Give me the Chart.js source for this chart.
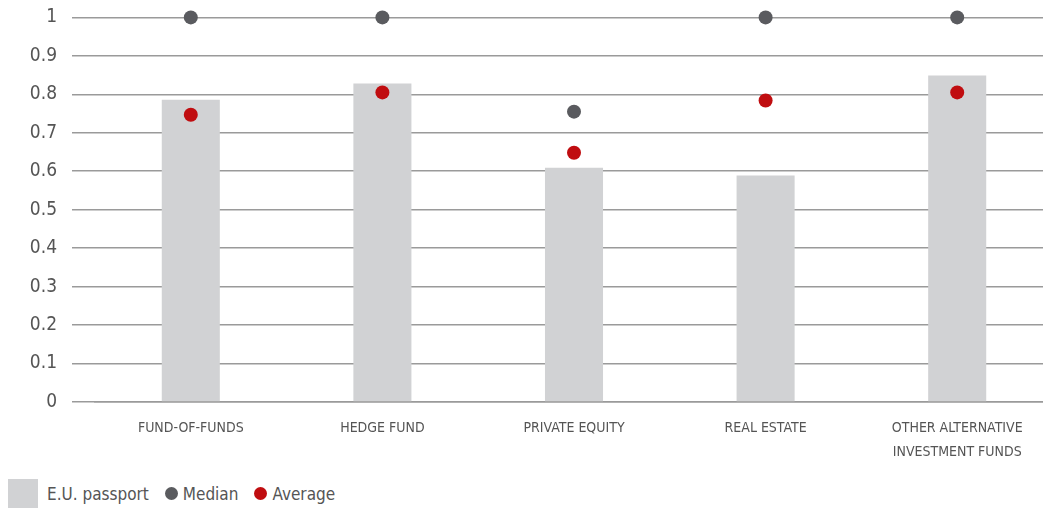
<!DOCTYPE html>
<html lang="en">
<head>
    <meta charset="UTF-8">
    <title>E.U. passport</title>
    <script src="https://cdn.jsdelivr.net/npm/chart.js"></script>
    <style>
        html, body { margin: 0; padding: 0; background: #fff; }
        .frame { position: relative; width: 1043px; height: 509px; overflow: hidden; }
        .chart-box { position: absolute; left: 0; top: -9px; width: 1060px; height: 479px; }
        .legend {
            position: absolute; left: 8px; top: 479px; height: 29px;
            display: flex; align-items: center;
            font-family: 'DejaVu Sans Condensed', 'Liberation Sans Narrow', sans-serif;
            font-size: 17px; color: #555;
        }
        .legend .sq { width: 30px; height: 29px; background: #d1d2d4; margin-right: 9px; }
        .legend .dot { width: 13px; height: 13px; border-radius: 50%; margin: 0 5px 0 16px; }
    </style>
</head>
<body>
    <div class="frame">
        <div class="chart-box"><canvas id="chart"></canvas></div>
        <div class="legend">
            <span class="sq"></span><span>E.U. passport</span>
            <span class="dot" style="background:#5a5b5f"></span><span>Median</span>
            <span class="dot" style="background:#c00d10"></span><span>Average</span>
        </div>
    </div>

    <script>
        // valeurs
        const categories = ['FUND-OF-FUNDS', 'HEDGE FUND', 'PRIVATE EQUITY', 'REAL ESTATE', ['OTHER ALTERNATIVE', 'INVESTMENT FUNDS']];
        const euPassport = [0.786, 0.828, 0.609, 0.589, 0.849];
        const median = [1, 1, 0.755, 1, 1];
        const average = [0.747, 0.805, 0.648, 0.784, 0.805];
        const yTickLabels = ['0', '0.1', '0.2', '0.3', '0.4', '0.5', '0.6', '0.7', '0.8', '0.9', '1'];

        const font = "'DejaVu Sans Condensed', 'Liberation Sans Narrow', sans-serif";
        Chart.defaults.font.family = font;
        Chart.defaults.color = '#555';

        new Chart(document.getElementById('chart').getContext('2d'), {
            data: {
                labels: categories,
                datasets: [{
                    type: 'line',
                    label: 'Median',
                    data: median,
                    showLine: false,
                    clip: false,
                    pointRadius: 7,
                    pointHoverRadius: 7,
                    pointBorderWidth: 0,
                    pointBackgroundColor: '#5a5b5f',
                    order: 1
                }, {
                    type: 'line',
                    label: 'Average',
                    data: average,
                    showLine: false,
                    clip: false,
                    pointRadius: 7,
                    pointHoverRadius: 7,
                    pointBorderWidth: 0,
                    pointBackgroundColor: '#c00d10',
                    order: 0
                }, {
                    type: 'bar',
                    label: 'E.U. passport',
                    data: euPassport,
                    backgroundColor: '#d1d2d4',
                    barPercentage: 0.303,
                    categoryPercentage: 1,
                    order: 2
                }]
            },
            options: {
                responsive: true,
                maintainAspectRatio: false,
                animation: false,
                layout: { padding: { top: 6, right: 7, left: 0, bottom: 0 } },
                plugins: {
                    legend: { display: false },
                    tooltip: { enabled: false }
                },
                scales: {
                    y: {
                        min: 0,
                        max: 1,
                        ticks: {
                            stepSize: 0.1,
                            padding: 15,
                            font: { size: 19 },
                            color: '#555',
                            callback: (v, i) => yTickLabels[i]
                        },
                        grid: { color: '#9a9a9a', lineWidth: 1.5, tickLength: 23 },
                        border: { display: false },
                        afterFit: s => { s.width = 95; }
                    },
                    x: {
                        ticks: {
                            padding: 6,
                            font: { size: 14, lineHeight: 1.75 },
                            color: '#555',
                            maxRotation: 0
                        },
                        grid: { display: false },
                        border: { color: '#9a9a9a', width: 1.5 },
                        afterFit: s => { s.height = 68; }
                    }
                }
            }
        });
    </script>
</body>
</html>
